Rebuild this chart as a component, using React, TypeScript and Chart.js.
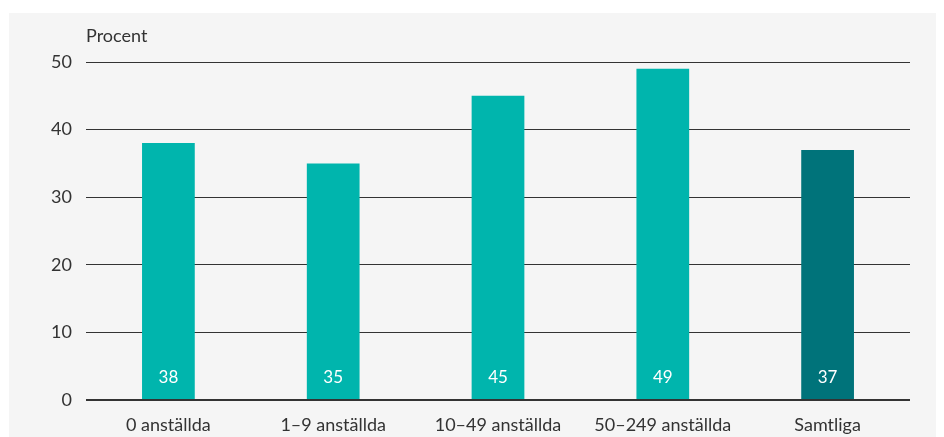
import React, { useEffect, useRef } from "react";
import { Chart, registerables } from "chart.js";

Chart.register(...registerables);

const categories = ["0 anställda", "1–9 anställda", "10–49 anställda", "50–249 anställda", "Samtliga"];
const values = [38, 35, 45, 49, 37];
const barColors = ["#00b5ad", "#00b5ad", "#00b5ad", "#00b5ad", "#00737a"];
const yTicks = [0, 10, 20, 30, 40, 50];
const unitLabel = "Procent";

const FONT = "Lato, 'Noto Sans', sans-serif";

const labelPlugin = {
  id: "barLabels",
  afterDatasetsDraw(chart: any) {
    const { ctx, chartArea } = chart;
    const meta = chart.getDatasetMeta(0);
    const yScale = chart.scales.y;
    ctx.save();
    ctx.fillStyle = "#ffffff";
    ctx.font = `17px ${FONT}`;
    ctx.textAlign = "center";
    ctx.textBaseline = "middle";
    meta.data.forEach((bar: any, i: number) => {
      ctx.fillText(String(values[i]), bar.x, yScale.getPixelForValue(0) - 22);
    });
    ctx.fillStyle = "#333333";
    ctx.textAlign = "left";
    ctx.textBaseline = "alphabetic";
    ctx.font = `18px ${FONT}`;
    ctx.fillText(unitLabel, chartArea.left, chartArea.top - 20);
    ctx.restore();
  },
};

export default function App() {
  const ref = useRef<HTMLCanvasElement>(null);
  useEffect(() => {
    if (!ref.current) return;
    const chart = new Chart(ref.current, {
      type: "bar",
      data: {
        labels: categories,
        datasets: [
          {
            data: values,
            backgroundColor: barColors,
            categoryPercentage: 1,
            barPercentage: 0.32,
          },
        ],
      },
      options: {
        animation: false,
        responsive: false,
        layout: { padding: { top: 49, right: 34, left: 0, bottom: 0 } },
        plugins: { legend: { display: false }, tooltip: { enabled: false } },
        scales: {
          x: {
            grid: { display: false },
            border: { display: false },
            ticks: { color: "#333333", font: { family: FONT, size: 18 }, padding: 6 },
            afterFit(scale: any) {
              scale.height = 37;
            },
          },
          y: {
            min: 0,
            max: 50,
            afterBuildTicks(scale: any) {
              scale.ticks = yTicks.map((v) => ({ value: v }));
            },
            grid: {
              color: "#333333",
              lineWidth: (c: any) => (c.tick && c.tick.value === 0 ? 2 : 1),
              drawTicks: false,
            },
            border: { display: false },
            ticks: { color: "#333333", font: { family: FONT, size: 18 }, padding: 14 },
            afterFit(scale: any) {
              scale.width = 77;
            },
          },
        },
      },
      plugins: [labelPlugin],
    });
    return () => chart.destroy();
  }, []);
  return (
    <div style={{ marginTop: 5, marginLeft: 1, width: 935, height: 424, background: "#f5f5f5" }}>
      <canvas ref={ref} width={935} height={424} style={{ display: "block" }} />
    </div>
  );
}
